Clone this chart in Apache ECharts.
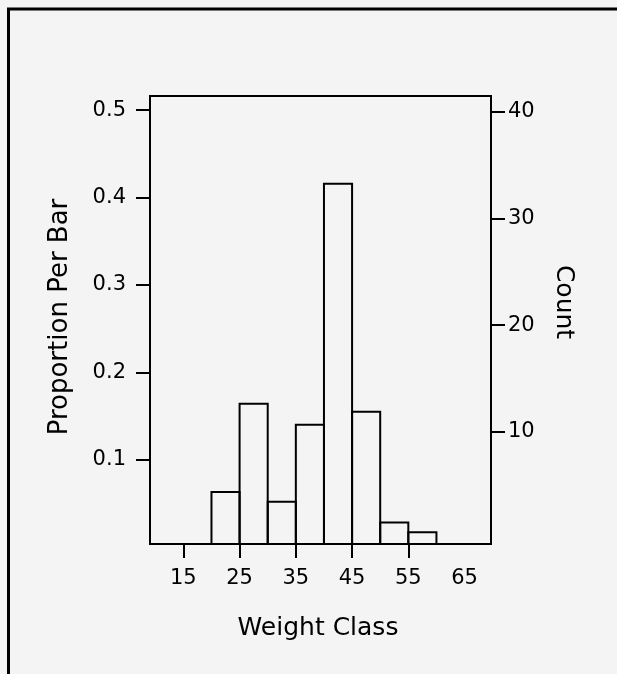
<!DOCTYPE html>
<html>
<head>
<meta charset="utf-8">
<script src="https://cdn.jsdelivr.net/npm/echarts@6/dist/echarts.min.js"></script>
<style>
html,body{margin:0;padding:0;background:#f4f4f4;}
#chart{width:617px;height:674px;}
</style>
</head>
<body>
<div id="chart"></div>
<script>
// ---- data ----
const binEdges = [20, 25, 30, 35, 40, 45, 50, 55, 60];
const proportions = [0.063, 0.164, 0.052, 0.140, 0.416, 0.155, 0.028, 0.017];
const xTickValues = [15, 25, 35, 45, 55];
const xLabelValues = [15, 25, 35, 45, 55, 65];
const leftTickValues = [0.1, 0.2, 0.3, 0.4, 0.5];
const rightTickValues = [10, 20, 30, 40];
const xTitle = 'Weight Class';
const leftTitle = 'Proportion Per Bar';
const rightTitle = 'Count';

const X_MIN = 9.07, X_MAX = 69.7;
const Y_MIN = 0.0035, Y_MAX = 0.5163;
const C_MIN = -0.5, C_MAX = 41.45;

const FONT = '"DejaVu Sans", sans-serif';
const barData = proportions.map((p, i) => [binEdges[i], binEdges[i + 1], p]);

const chart = echarts.init(document.getElementById('chart'), null, {renderer: 'canvas'});
const tickStyle = {show: true, length: 14, lineStyle: {color: '#000', width: 2}};
const labelStyle = {color: '#000', fontSize: 21, fontFamily: FONT};

chart.setOption({
  backgroundColor: '#f4f4f4',
  animation: false,
  grid: {left: 150, top: 96, width: 341, height: 448, show: true,
         borderColor: '#000', borderWidth: 2, backgroundColor: 'transparent'},
  xAxis: {
    type: 'value', min: X_MIN, max: X_MAX,
    axisLine: {show: false, onZero: false},
    splitLine: {show: false},
    axisTick: Object.assign({customValues: xTickValues}, tickStyle),
    axisLabel: Object.assign({customValues: xLabelValues, margin: 24}, labelStyle)
  },
  yAxis: [{
    type: 'value', min: Y_MIN, max: Y_MAX, position: 'left',
    axisLine: {show: false, onZero: false},
    splitLine: {show: false},
    axisTick: Object.assign({customValues: leftTickValues}, tickStyle),
    axisLabel: Object.assign({customValues: leftTickValues, margin: 24,
      formatter: v => Number(v).toFixed(1)}, labelStyle)
  }, {
    type: 'value', min: C_MIN, max: C_MAX, position: 'right',
    axisLine: {show: false, onZero: false},
    splitLine: {show: false},
    axisTick: Object.assign({customValues: rightTickValues}, tickStyle),
    axisLabel: Object.assign({customValues: rightTickValues, margin: 17}, labelStyle)
  }],
  series: [{
    type: 'custom',
    xAxisIndex: 0, yAxisIndex: 0,
    data: barData,
    renderItem: function (params, api) {
      const p0 = api.coord([api.value(0), Y_MIN]);
      const p1 = api.coord([api.value(1), api.value(2)]);
      return {
        type: 'rect',
        shape: {x: p0[0], y: p1[1], width: p1[0] - p0[0], height: p0[1] - p1[1]},
        style: {fill: 'transparent', stroke: '#000', lineWidth: 2}
      };
    }
  }],
  graphic: [
    {type: 'rect', shape: {x: 8.5, y: 9, width: 700, height: 700},
     style: {fill: 'none', stroke: '#000', lineWidth: 3}, silent: true},
    {type: 'text', x: 318, y: 628,
     style: {text: xTitle, font: '25px ' + FONT, fill: '#000',
             textAlign: 'center', textVerticalAlign: 'middle', align: 'center', verticalAlign: 'middle'}},
    {type: 'text', x: 60, y: 317, rotation: Math.PI / 2,
     style: {text: leftTitle, font: '26px ' + FONT, fill: '#000',
             textAlign: 'center', textVerticalAlign: 'middle', align: 'center', verticalAlign: 'middle'}},
    {type: 'text', x: 563, y: 302, rotation: -Math.PI / 2,
     style: {text: rightTitle, font: '25px ' + FONT, fill: '#000',
             textAlign: 'center', textVerticalAlign: 'middle', align: 'center', verticalAlign: 'middle'}}
  ]
});
</script>
</body>
</html>
